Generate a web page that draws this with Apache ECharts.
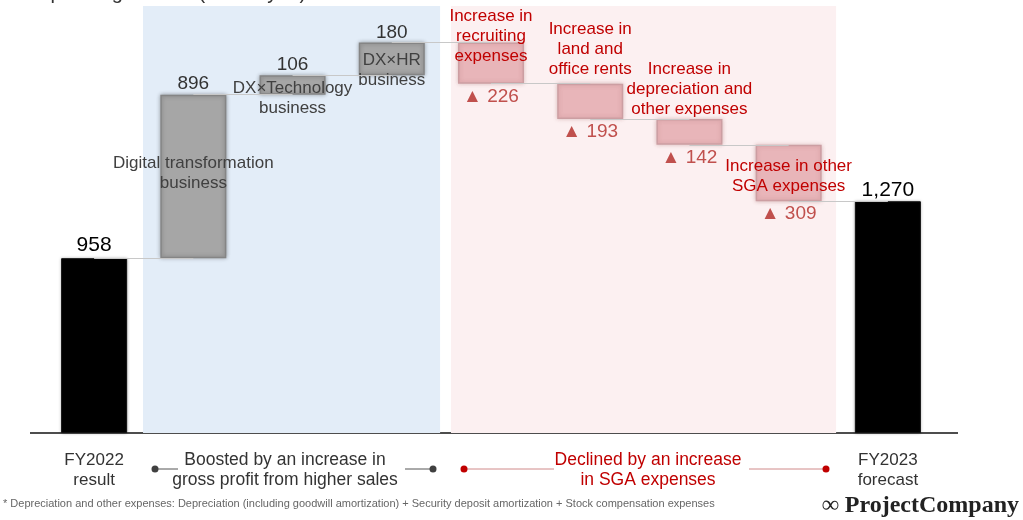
<!DOCTYPE html>
<html>
<head>
<meta charset="utf-8">
<script src="https://cdn.jsdelivr.net/npm/echarts@6/dist/echarts.min.js"></script>
<style>
  html, body { margin: 0; padding: 0; background: #ffffff; }
  #chart { width: 1023px; height: 520px; }
</style>
</head>
<body>
<div id="chart"></div>
<script>
// Operating income bridge, FY2022 result -> FY2023 forecast (million yen)
const categories = [
  'FY2022\nresult',
  'Digital transformation\nbusiness',
  'DX×Technology\nbusiness',
  'DX×HR\nbusiness',
  'Increase in\nrecruiting\nexpenses',
  'Increase in\nland and\noffice rents',
  'Increase in\ndepreciation and\nother expenses',
  'Increase in other\nSGA expenses',
  'FY2023\nforecast'
];
const changes = [958, 896, 106, 180, -226, -193, -142, -309, 1270];
const kinds = ['total', 'gain', 'gain', 'gain', 'cost', 'cost', 'cost', 'cost', 'total'];
const groupNotes = ['Boosted by an increase in\ngross profit from higher sales', 'Declined by an increase\nin SGA expenses'];
const titleText = 'Operating income (million yen)';
const footnote = '* Depreciation and other expenses: Depreciation (including goodwill amortization) + Security deposit amortization + Stock compensation expenses';
const brand = '∞ ProjectCompany';

const FONT = '"Liberation Sans", Arial, Helvetica, sans-serif';

// running totals -> floating bar geometry
const bases = [], heights = [], levels = [];
let running = 0;
changes.forEach((v, i) => {
  if (kinds[i] === 'total') { bases.push(0); heights.push(v); running = v; }
  else if (v >= 0) { bases.push(running); heights.push(v); running += v; }
  else { running += v; bases.push(running); heights.push(-v); }
  levels.push(running);
});

const fmt = v => Math.abs(v).toLocaleString('en-US');

const barFill = {
  total: { color: '#000000', borderColor: '#111111', borderWidth: 1, shadowBlur: 3, shadowColor: 'rgba(0,0,0,0.35)' },
  gain: { color: '#a6a6a6', borderColor: '#858585', borderWidth: 1.5, shadowBlur: 4, shadowColor: 'rgba(0,0,0,0.3)' },
  cost: { color: '#e8b5b9', borderColor: '#cc9ea2', borderWidth: 1.5, shadowBlur: 4, shadowColor: 'rgba(150,80,80,0.3)' }
};

// where each bar's caption sits relative to its rectangle
const captionPlace = [
  null,
  { position: 'inside', offset: [0, -3] },
  { position: 'insideTop', distance: 3 },
  { position: 'insideTop', distance: 8 },
  { position: 'top', distance: -24 },
  { position: 'top', distance: 4 },
  { position: 'top', distance: 0 },
  { position: 'inside', offset: [0, 3] },
  null
];
const valueDistance = [2, 1, 1, 0, 4, 3.5, 3.5, 3.5, 0.5];

const changeData = heights.map((h, i) => {
  const place = captionPlace[i];
  const red = kinds[i] === 'cost';
  return {
    value: h,
    itemStyle: barFill[kinds[i]],
    label: place ? Object.assign({
      show: true,
      formatter: categories[i],
      color: red ? '#c00000' : '#404040',
      fontSize: 17,
      lineHeight: 20,
      fontFamily: FONT,
      overflow: 'none'
    }, place) : { show: false }
  };
});

const valueData = heights.map((h, i) => {
  const k = kinds[i];
  return {
    value: h,
    label: {
      show: true,
      position: k === 'cost' ? 'bottom' : 'top',
      distance: valueDistance[i],
      formatter: (k === 'cost' ? '▲ ' : '') + fmt(changes[i]),
      color: k === 'total' ? '#000000' : (k === 'cost' ? '#c0504d' : '#333333'),
      fontSize: k === 'total' ? 21 : 19,
      fontFamily: FONT
    }
  };
});

const connectors = levels.slice(0, -1).map((lv, i) => [
  { coord: [categories[i], lv] },
  { coord: [categories[i + 1], lv] }
]);

const chart = echarts.init(document.getElementById('chart'), null, { renderer: 'canvas' });

chart.setOption({
  backgroundColor: '#ffffff',
  animation: false,
  grid: { left: 44.5, right: 85.5, top: 6, bottom: 87, containLabel: false },
  xAxis: [
    {
      type: 'category',
      data: categories,
      axisLine: { show: false },
      axisTick: { show: false },
      axisLabel: {
        interval: 0,
        margin: 17,
        color: '#333333',
        fontSize: 17,
        lineHeight: 20,
        fontFamily: FONT,
        formatter: (v, i) => (kinds[i] === 'total' ? v : '')
      }
    },
    { type: 'value', min: 0, max: 9, show: false }
  ],
  yAxis: { type: 'value', min: 0, max: 2340, show: false, splitLine: { show: false } },
  series: [
    {
      name: 'zones',
      type: 'line',
      xAxisIndex: 1,
      data: [[0, 0]],
      symbol: 'none',
      lineStyle: { opacity: 0 },
      silent: true,
      z: 0,
      markArea: {
        silent: true,
        data: [
          [{ xAxis: 0.993, itemStyle: { color: '#e3edf8' } }, { xAxis: 3.987 }],
          [{ xAxis: 4.097, itemStyle: { color: '#fcf0f1' } }, { xAxis: 7.978 }]
        ]
      }
    },
    {
      name: 'base',
      type: 'bar',
      stack: 'bridge',
      barWidth: 66,
      barGap: '-100%',
      data: bases,
      itemStyle: { color: 'transparent' },
      silent: true,
      z: 2
    },
    {
      name: 'change',
      type: 'bar',
      stack: 'bridge',
      barWidth: 66,
      barGap: '-100%',
      data: changeData,
      z: 3,
      markLine: {
        silent: true,
        symbol: 'none',
        label: { show: false },
        lineStyle: { color: '#c8c8c8', width: 1, type: 'solid' },
        data: connectors
      }
    },
    {
      name: 'baseV',
      type: 'bar',
      stack: 'values',
      barWidth: 66,
      barGap: '-100%',
      data: bases,
      itemStyle: { color: 'transparent' },
      silent: true,
      z: 4
    },
    {
      name: 'value',
      type: 'bar',
      stack: 'values',
      barWidth: 66,
      barGap: '-100%',
      data: valueData,
      itemStyle: { color: 'transparent' },
      silent: true,
      z: 4
    }
  ],
  graphic: [
    { type: 'text', left: 35, top: -17, silent: true,
      style: { text: titleText, fill: '#333333', font: '20px ' + FONT } },
    { type: 'line', silent: true, shape: { x1: 30, y1: 433, x2: 958, y2: 433 },
      style: { stroke: '#4d4d4d', lineWidth: 2 } },
    // gain bracket
    { type: 'line', silent: true, shape: { x1: 155, y1: 469, x2: 178, y2: 469 }, style: { stroke: '#555555', lineWidth: 1 } },
    { type: 'circle', silent: true, shape: { cx: 155, cy: 469, r: 3.5 }, style: { fill: '#404040' } },
    { type: 'line', silent: true, shape: { x1: 405, y1: 469, x2: 433, y2: 469 }, style: { stroke: '#555555', lineWidth: 1 } },
    { type: 'circle', silent: true, shape: { cx: 433, cy: 469, r: 3.5 }, style: { fill: '#404040' } },
    { type: 'text', x: 285, y: 470, silent: true,
      style: { text: groupNotes[0], fill: '#333333', font: '17.5px ' + FONT, align: 'center', verticalAlign: 'middle', lineHeight: 20 } },
    // cost bracket
    { type: 'line', silent: true, shape: { x1: 464, y1: 469, x2: 554, y2: 469 }, style: { stroke: '#d08a8a', lineWidth: 1 } },
    { type: 'circle', silent: true, shape: { cx: 464, cy: 469, r: 3.5 }, style: { fill: '#c00000' } },
    { type: 'line', silent: true, shape: { x1: 749, y1: 469, x2: 826, y2: 469 }, style: { stroke: '#d08a8a', lineWidth: 1 } },
    { type: 'circle', silent: true, shape: { cx: 826, cy: 469, r: 3.5 }, style: { fill: '#c00000' } },
    { type: 'text', x: 648, y: 470, silent: true,
      style: { text: groupNotes[1], fill: '#c00000', font: '17.5px ' + FONT, align: 'center', verticalAlign: 'middle', lineHeight: 20 } },
    { type: 'text', left: 3, top: 498, silent: true,
      style: { text: footnote, fill: '#666666', font: '11px ' + FONT } },
    { type: 'text', right: 4, top: 494, silent: true,
      style: { text: brand, fill: '#222222', font: 'bold 24px "Liberation Serif", "DejaVu Serif", serif' } }
  ]
});
</script>
</body>
</html>
